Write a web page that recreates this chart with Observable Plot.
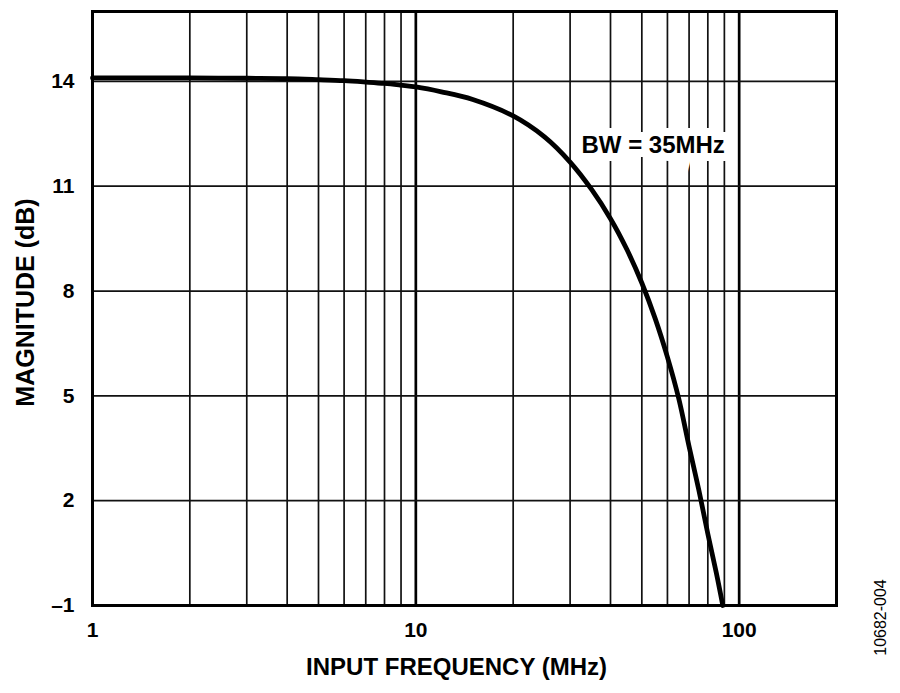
<!DOCTYPE html>
<html>
<head>
<meta charset="utf-8">
<script src="https://cdn.jsdelivr.net/npm/d3@7"></script>
<script src="https://cdn.jsdelivr.net/npm/@observablehq/plot@0.6"></script>
<style>
  html, body { margin: 0; padding: 0; background: #fff; }
  #chart svg { display: block; }
</style>
</head>
<body>
<div id="chart"></div>
<script>
// Frequency response (MHz vs dB)
const freq = [1, 1.5, 2, 3, 4, 5, 6, 7, 8, 9, 10, 12, 15, 20, 25, 30, 35, 40, 45, 50, 55, 60, 65, 70, 75, 80, 85, 89];
const mag  = [14.1, 14.1, 14.1, 14.09, 14.08, 14.05, 14.02, 13.98, 13.94, 13.89, 13.84, 13.70, 13.48, 13.01, 12.41, 11.69, 10.90, 10.07, 9.18, 8.23, 7.21, 6.11, 4.93, 3.55, 2.31, 1.05, -0.07, -1];

const xTicks = [1, 10, 100];
const yTicks = [-1, 2, 5, 8, 11, 14];
const xMinorGrid = [2, 3, 4, 5, 6, 7, 8, 9, 20, 30, 40, 50, 60, 70, 80, 90];
const xMajorGrid = [10, 100];
const yGrid = [2, 5, 8, 11, 14];

const xTitle = "INPUT FREQUENCY (MHz)";
const yTitle = "MAGNITUDE (dB)";
const annotation = [{f: 54.2, m: 12.17, label: "BW = 35MHz"}];
const figureId = "10682-004";

const data = freq.map((f, i) => ({f, m: mag[i]}));

const chart = Plot.plot({
  width: 900,
  height: 693,
  marginLeft: 92,
  marginRight: 64,
  marginTop: 11,
  marginBottom: 88,
  style: {fontFamily: "'Liberation Sans', Arial, sans-serif", fontWeight: "bold", color: "#000", background: "#fff"},
  x: {type: "log", domain: [1, 200]},
  y: {domain: [-1, 16]},
  marks: [
    Plot.ruleX(xMinorGrid, {stroke: "#111", strokeWidth: 1.7}),
    Plot.ruleX(xMajorGrid, {stroke: "#000", strokeWidth: 2.7}),
    Plot.ruleY(yGrid, {stroke: "#111", strokeWidth: 1.7}),
    Plot.axisX({ticks: xTicks, tickSize: 0, tickPadding: 17, fontSize: 21, fontWeight: "bold", label: null, tickFormat: d => String(d)}),
    Plot.axisY({ticks: yTicks, tickSize: 0, tickPadding: 18, fontSize: 21, fontWeight: "bold", label: null,
      tickFormat: d => d < 0 ? "\u2013" + Math.abs(d) : String(d)}),
    Plot.text(annotation, {x: "f", y: "m", text: "label", fontSize: 24, fontWeight: "bold", fill: "#000",
      stroke: "white", strokeWidth: 16, paintOrder: "stroke", strokeLinejoin: "miter", textAnchor: "middle"}),
    Plot.line(data, {x: "f", y: "m", stroke: "#000", strokeWidth: 4.8, curve: "catmull-rom"}),
    Plot.frame({stroke: "#000", strokeWidth: 3}),
    Plot.text([xTitle], {text: d => d, frameAnchor: "bottom", dy: 62, dx: -8, fontSize: 24, fontWeight: "bold", textAnchor: "middle", lineAnchor: "middle"}),
    Plot.text([yTitle], {text: d => d, frameAnchor: "left", dx: -67, dy: -6, rotate: -90, fontSize: 25, fontWeight: "bold", textAnchor: "middle", lineAnchor: "middle"}),
    Plot.text([figureId], {text: d => d, frameAnchor: "bottom-right", dx: 44, dy: 12, rotate: -90, fontSize: 16, fontWeight: "normal", textAnchor: "middle", lineAnchor: "middle"})
  ]
});
document.getElementById("chart").appendChild(chart);
</script>
</body>
</html>
